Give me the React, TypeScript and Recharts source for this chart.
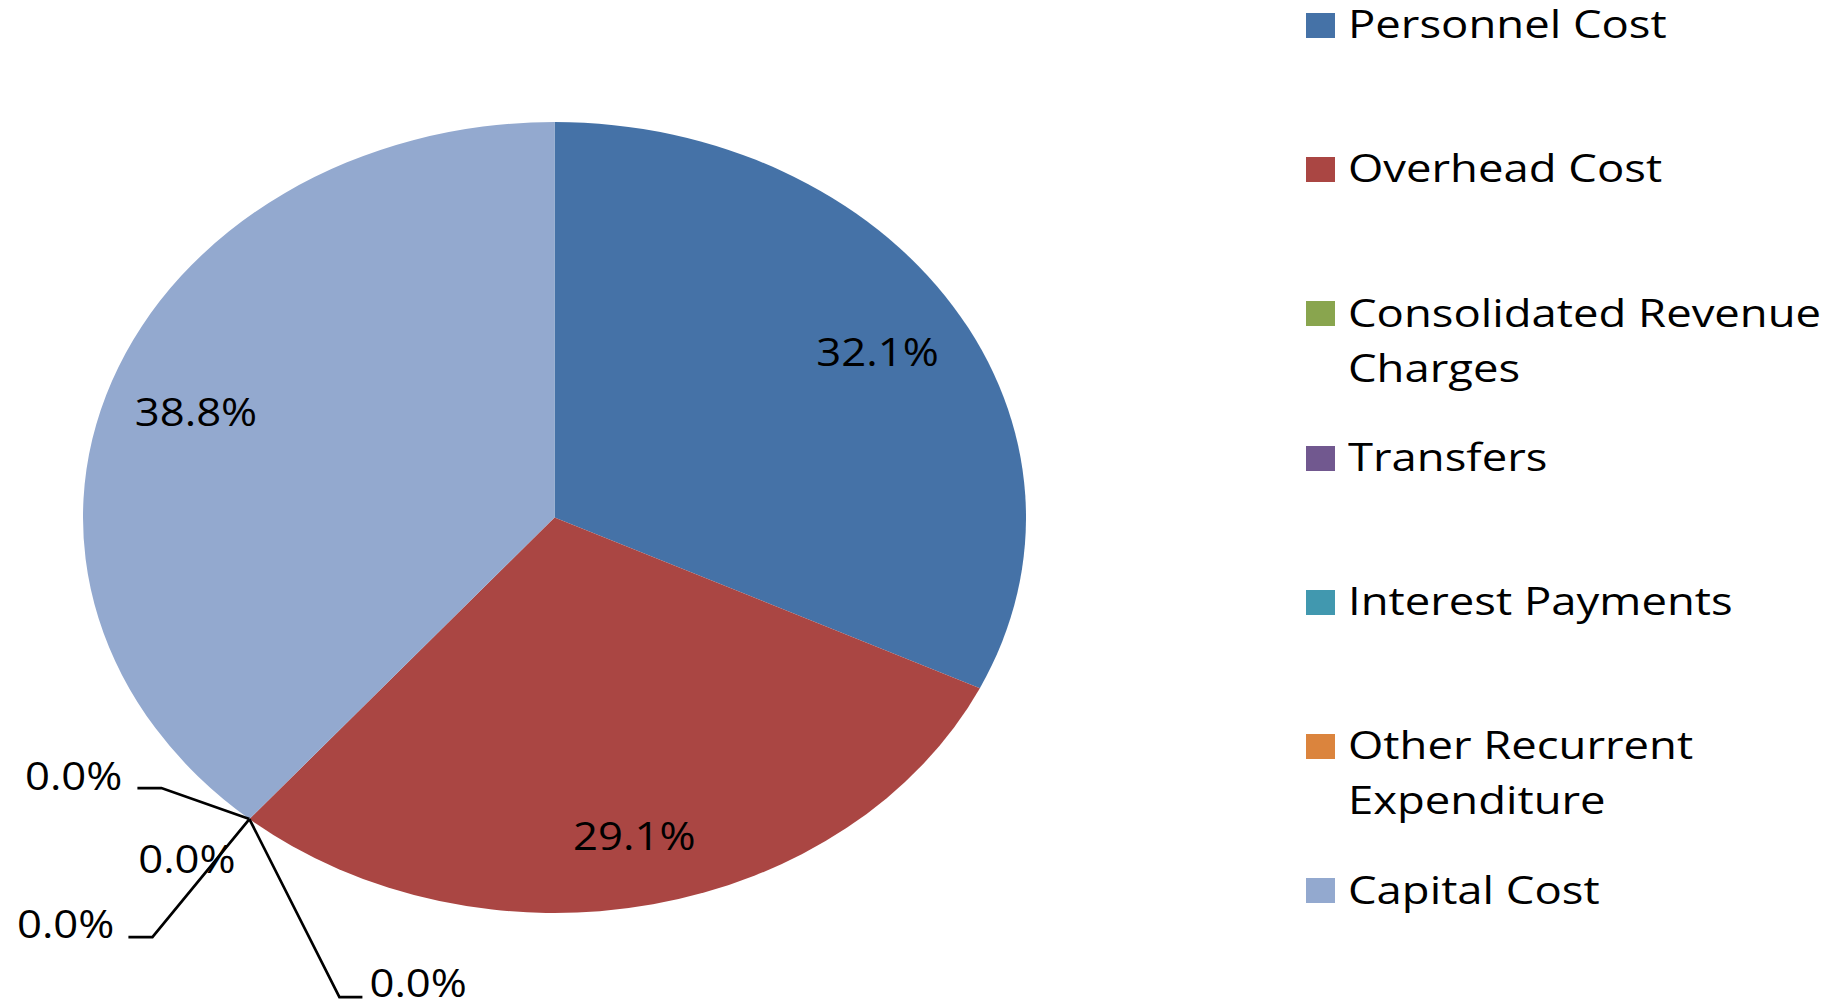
import React from 'react';
import { PieChart, Pie, Cell, Legend } from 'recharts';

// ---- data ----
const categories = [
  'Personnel Cost',
  'Overhead Cost',
  'Consolidated Revenue Charges',
  'Transfers',
  'Interest Payments',
  'Other Recurrent Expenditure',
  'Capital Cost',
];
const shares = [32.1, 29.1, 0, 0, 0, 0, 38.8];
const colors = ['#4572A7', '#AA4643', '#89A54E', '#71588F', '#4198AF', '#DB843D', '#93A9CF'];

const data = categories.map((name, i) => ({ name, value: shares[i] }));

// ---- layout / style ----
const W = 1821;
const H = 994;
const CX = 546.5;
const CY = 509.5;
const RY = 395.5;
const KX = 471.5 / 395.5; // horizontal stretch of the pie
const FONT = "'Open Sans', sans-serif";
const FS = 39;
const SX = 1.12; // horizontal stretch of label text
const LEG_SX = 1.165; // horizontal stretch of legend text
const LABEL_T = 0.81;
const LABEL_DY = 5;
const RAD = Math.PI / 180;

// placement of the labels of the zero-size slices, relative to their point on the rim
const zeroLabelLayout: any[] = [
  null,
  null,
  { elbow: [-88, -31], end: [-112, -31], text: [-127, -29], anchor: 'end' },
  { elbow: null, end: null, text: [-62.5, 54], anchor: 'middle' },
  { elbow: [-97, 118], end: [-121, 118], text: [-135, 119], anchor: 'end' },
  { elbow: [90, 178], end: [113, 178], text: [120, 178], anchor: 'start' },
  null,
];

const LEGEND_SQ_LEFT = 1298;
const LEGEND_SQ_W = 28.7;
const LEGEND_SQ_H = 25;
const LEGEND_TEXT_LEFT = 1340;
const LEGEND_FIRST = 17.2;
const LEGEND_STEP = 144.27;

const ellipsePoint = (cx: number, cy: number, r: number, angle: number) => ({
  x: cx + KX * r * Math.cos(-angle * RAD),
  y: cy + r * Math.sin(-angle * RAD),
});

function EllipseSector(props: any) {
  const { cx, cy, outerRadius, startAngle, endAngle, fill } = props;
  const delta = endAngle - startAngle;
  if (Math.abs(delta) < 1e-6) return <g />;
  if (Math.abs(delta) >= 359.999) {
    return <ellipse cx={cx} cy={cy} rx={KX * outerRadius} ry={outerRadius} fill={fill} />;
  }
  const p0 = ellipsePoint(cx, cy, outerRadius, startAngle);
  const p1 = ellipsePoint(cx, cy, outerRadius, endAngle);
  const large = Math.abs(delta) > 180 ? 1 : 0;
  const sweep = startAngle > endAngle ? 1 : 0;
  const d = `M${cx},${cy} L${p0.x},${p0.y} A${KX * outerRadius},${outerRadius} 0 ${large} ${sweep} ${p1.x},${p1.y} Z`;
  return <path d={d} fill={fill} stroke="none" />;
}

function renderLabel(props: any) {
  const { cx, cy, midAngle, outerRadius, percent, index } = props;
  const txt = `${(percent * 100).toFixed(1)}%`;
  const layout = zeroLabelLayout[index];
  if (percent === 0 && layout) {
    const a = ellipsePoint(cx, cy, outerRadius, midAngle);
    const tx = a.x + layout.text[0];
    const ty = a.y + layout.text[1];
    return (
      <g key={`lbl-${index}`}>
        {layout.elbow && (
          <polyline
            points={`${a.x},${a.y} ${a.x + layout.elbow[0]},${a.y + layout.elbow[1]} ${a.x + layout.end[0]},${a.y + layout.end[1]}`}
            fill="none"
            stroke="#000"
            strokeWidth={2.7}
          />
        )}
        <g transform={`translate(${tx},${ty}) scale(${SX},1)`}>
          <text x={0} y={0} textAnchor={layout.anchor} fill="#000" fontSize={FS} fontFamily={FONT}>
            {txt}
          </text>
        </g>
      </g>
    );
  }
  const p = ellipsePoint(cx, cy, outerRadius * LABEL_T, midAngle);
  const by = p.y + 0.357 * FS + LABEL_DY;
  return (
    <g key={`lbl-${index}`} transform={`translate(${p.x},${by}) scale(${SX},1)`}>
      <text x={0} y={0} textAnchor="middle" fill="#000" fontSize={FS} fontFamily={FONT}>
        {txt}
      </text>
    </g>
  );
}

function renderLegend(props: any) {
  const payload = [...(props.payload || [])].sort(
    (a: any, b: any) => categories.indexOf(a.value) - categories.indexOf(b.value)
  );
  return (
    <div style={{ position: 'relative', width: 0, height: 0, overflow: 'visible' }}>
      {payload.map((entry: any, i: number) => {
        const center = LEGEND_FIRST + LEGEND_STEP * i;
        return (
          <React.Fragment key={`leg-${i}`}>
            <div
              style={{
                position: 'absolute',
                left: LEGEND_SQ_LEFT,
                top: center - LEGEND_SQ_H / 2,
                width: LEGEND_SQ_W,
                height: LEGEND_SQ_H,
                background: entry.color || colors[categories.indexOf(entry.value)],
              }}
            />
            <div
              style={{
                position: 'absolute',
                left: LEGEND_TEXT_LEFT,
                top: center - 30.1,
                width: 420,
                fontFamily: FONT,
                fontSize: FS,
                lineHeight: '55px',
                color: '#000',
                whiteSpace: 'normal',
                transform: `scaleX(${LEG_SX})`,
                transformOrigin: 'left top',
                textAlign: 'left',
              }}
            >
              {entry.value}
            </div>
          </React.Fragment>
        );
      })}
    </div>
  );
}

export default function App() {
  return (
    <div style={{ width: W, height: H, fontFamily: FONT, background: '#fff', overflow: 'visible' }}>
      <style>{`html, body { overflow: hidden; }`}</style>
      <PieChart width={W} height={H} margin={{ top: 0, right: 0, bottom: 0, left: 0 }}>
        <Pie
          data={data}
          dataKey="value"
          nameKey="name"
          cx={CX}
          cy={CY}
          outerRadius={RY}
          startAngle={90}
          endAngle={-270}
          stroke="none"
          shape={EllipseSector}
          label={renderLabel}
          labelLine={false}
          isAnimationActive={false}
        >
          {data.map((d, i) => (
            <Cell key={d.name} fill={colors[i]} />
          ))}
        </Pie>
        <Legend
          layout="vertical"
          align="right"
          verticalAlign="middle"
          itemSorter={(item: any) => categories.indexOf(item.value)}
          content={renderLegend}
          wrapperStyle={{ left: 0, top: 0, right: 'auto', bottom: 'auto', width: 0, height: 0, overflow: 'visible' }}
        />
      </PieChart>
    </div>
  );
}
